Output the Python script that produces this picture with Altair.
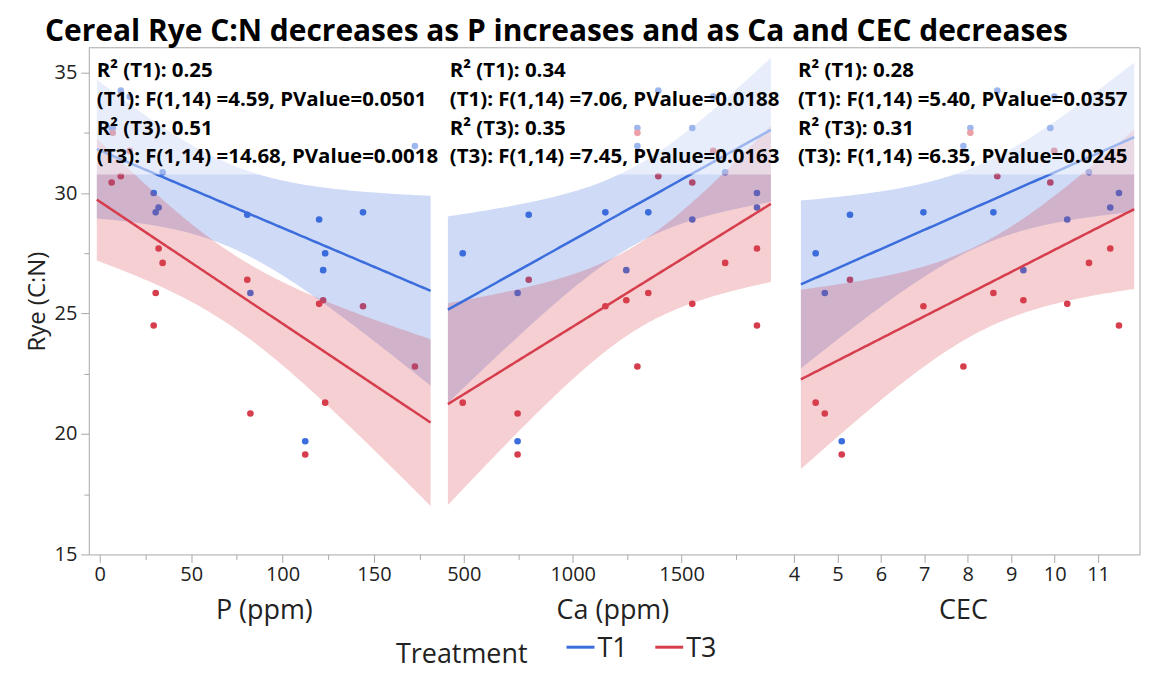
import altair as alt
import numpy as np
import pandas as pd

# ---- data (16 sites, each with a T1 and a T3 rye C:N value) ----
P_ppm = [11.5, 7.1, 16.4, 6.5, 32.2, 34.4, 30.6, 29.5, 80.7, 82.4, 120.0, 122.2, 123.3, 112.4, 144.0, 172.4]
Ca_ppm = [1393, 1297, 1645, 1549, 1846, 1700, 1347, 1846, 798, 747, 1549, 1246, 495, 747, 1150, 1297]
CEC = [8.68, 8.06, 9.99, 9.90, 11.28, 10.79, 8.59, 11.48, 5.29, 4.71, 10.29, 9.28, 4.50, 5.10, 6.98, 7.90]
rye_T1 = [34.25, 32.7, 34.0, 32.7, 29.4, 30.86, 29.2, 30.0, 29.1, 25.85, 28.9, 26.8, 27.5, 19.7, 29.2, 31.95]
rye_T3 = [30.7, 32.5, 31.75, 30.44, 27.7, 27.1, 25.85, 24.5, 26.4, 20.85, 25.4, 25.55, 21.3, 19.15, 25.3, 22.8]
treatments = ["T1", "T3"]

notes_P = ["R\u00b2 (T1): 0.25", "(T1): F(1,14) =4.59, PValue=0.0501",
           "R\u00b2 (T3): 0.51", "(T3): F(1,14) =14.68, PValue=0.0018"]
notes_Ca = ["R\u00b2 (T1): 0.34", "(T1): F(1,14) =7.06, PValue=0.0188",
            "R\u00b2 (T3): 0.35", "(T3): F(1,14) =7.45, PValue=0.0163"]
notes_CEC = ["R\u00b2 (T1): 0.28", "(T1): F(1,14) =5.40, PValue=0.0357",
             "R\u00b2 (T3): 0.31", "(T3): F(1,14) =6.35, PValue=0.0245"]

FONT = "Open Sans"
BLUE = "#3b6ddc"
RED = "#d63e4d"
GRAY = "#a8a8a8"
TXT = "#222222"
H = 508
Y_DOM = [15, 36.03]
T_CRIT = 2.144787  # t(0.975, 14)

color_scale = alt.Scale(domain=treatments, range=[BLUE, RED])


def fit_table(xs, lo, hi):
    frames = []
    for trt, ys in zip(treatments, (rye_T1, rye_T3)):
        x = np.asarray(xs, float)
        y = np.asarray(ys, float)
        n = len(x)
        b1, b0 = np.polyfit(x, y, 1)
        s = np.sqrt(np.sum((y - (b0 + b1 * x)) ** 2) / (n - 2))
        xbar = x.mean()
        sxx = np.sum((x - xbar) ** 2)
        grid = np.linspace(lo, hi, 120)
        yhat = b0 + b1 * grid
        half = T_CRIT * s * np.sqrt(1.0 / n + (grid - xbar) ** 2 / sxx)
        frames.append(pd.DataFrame({"x": grid, "yhat": yhat, "lo": yhat - half,
                                    "hi": yhat + half, "Treatment": trt}))
    return pd.concat(frames, ignore_index=True)


def make_panel(xs, xtitle, domain, fit_lo, fit_hi, tick_vals, label_step, width,
               notes, note_dx, first=False, last=False):
    pts = pd.DataFrame({"x": list(xs) * 2, "y": rye_T1 + rye_T3,
                        "Treatment": ["T1"] * len(xs) + ["T3"] * len(xs)})
    fit = fit_table(xs, fit_lo, fit_hi)

    xaxis = alt.Axis(
        title=xtitle, values=tick_vals, format="d",
        labelExpr=f"datum.value % {label_step} === 0 ? datum.label : ''",
        tickSize={"condition": {"test": f"datum.value % {label_step} === 0", "value": 8}, "value": 5},
        grid=False, labelPadding=2, titlePadding=13,
    )
    xs_scale = alt.Scale(domain=domain, nice=False, zero=False)
    if first:
        yaxis = alt.Axis(
            title="Rye (C:N)", values=[15, 17.5, 20, 22.5, 25, 27.5, 30, 32.5, 35], format="d",
            labelExpr="datum.value % 5 === 0 ? datum.label : ''",
            tickSize={"condition": {"test": "datum.value % 5 === 0", "value": 8}, "value": 5},
            grid=False, labelPadding=4, titlePadding=5, titleFontSize=24,
        )
    else:
        yaxis = None
    ys_scale = alt.Scale(domain=Y_DOM, nice=False, zero=False)

    col = alt.Color("Treatment:N", scale=color_scale, legend=None)

    points = alt.Chart(pts).mark_circle(size=44, opacity=1).encode(
        x=alt.X("x:Q", scale=xs_scale, axis=xaxis),
        y=alt.Y("y:Q", scale=ys_scale, axis=yaxis), color=col)
    band = alt.Chart(fit).mark_area(opacity=0.25, clip=True).encode(
        x=alt.X("x:Q", scale=xs_scale, axis=xaxis),
        y=alt.Y("lo:Q", scale=ys_scale, axis=yaxis), y2="hi:Q", color=col)
    line = alt.Chart(fit).mark_line(strokeWidth=2.5, clip=True).encode(
        x=alt.X("x:Q", scale=xs_scale, axis=xaxis),
        y=alt.Y("yhat:Q", scale=ys_scale, axis=yaxis), color=col)

    one = pd.DataFrame({"k": [0]})
    veil = alt.Chart(one).mark_rect(color="white", opacity=0.5).encode(
        x=alt.value(6), x2=alt.value(width), y=alt.value(0), y2=alt.value(127))
    frame_top = alt.Chart(one).mark_rule(color=GRAY, strokeWidth=1).encode(
        x=alt.value(0), x2=alt.value(width), y=alt.value(0))
    layers = [points, band, line, veil, frame_top]
    if last:
        layers.append(alt.Chart(one).mark_rule(color=GRAY, strokeWidth=1).encode(
            x=alt.value(width), y=alt.value(0), y2=alt.value(H)))
    for i, t in enumerate(notes):
        layers.append(alt.Chart(pd.DataFrame({"t": [t]})).mark_text(
            align="left", baseline="middle", font=FONT, fontSize=20.5, fontWeight="bold",
            color="black").encode(x=alt.value(note_dx), y=alt.value(23 + 29 * i), text="t:N"))
    return layers


l1 = make_panel(P_ppm, "P (ppm)", [-6.0, 185.5], -1.6, 181.0,
                [0, 25, 50, 75, 100, 125, 150, 175], 50, 351, notes_P, 8, first=True)
l2 = make_panel(Ca_ppm, "Ca (ppm)", [385.5, 1979.0], 427.0, 1910.0,
                [500, 750, 1000, 1250, 1500, 1750], 500, 348, notes_Ca, 11)
l3 = make_panel(CEC, "CEC", [3.816, 11.964], 4.16, 11.83,
                [4, 5, 6, 7, 8, 9, 10, 11], 1, 355, notes_CEC, 12, last=True)

# legend, drawn below the middle panel
leg = pd.DataFrame({"Treatment": treatments})
for i, trt in enumerate(treatments):
    l2.append(alt.Chart(leg[leg.Treatment == trt]).mark_rule(strokeWidth=3).encode(
        x=alt.value(128 + 89 * i), x2=alt.value(156 + 89 * i), y=alt.value(601),
        color=alt.Color("Treatment:N", scale=color_scale, legend=None)))
    l2.append(alt.Chart(leg[leg.Treatment == trt]).mark_text(
        align="left", baseline="alphabetic", font=FONT, fontSize=27, color=TXT).encode(
        x=alt.value(159 + 89 * i), y=alt.value(611), text="Treatment:N"))
l2.append(alt.Chart(pd.DataFrame({"t": ["Treatment"]})).mark_text(
    align="left", baseline="alphabetic", font=FONT, fontSize=27, color=TXT).encode(
    x=alt.value(-43), y=alt.value(617), text="t:N"))

p1 = alt.layer(*l1).properties(width=351, height=H)
p2 = alt.layer(*l2).properties(width=348, height=H)
p3 = alt.layer(*l3).properties(width=355, height=H)

chart = alt.hconcat(p1, p2, p3, spacing=0, bounds="flush").properties(
    title=alt.TitleParams(
        "Cereal Rye C:N decreases as P increases and as Ca and CEC decreases",
        font=FONT, fontSize=30, fontWeight="bold", color="black", anchor="start",
        offset=0, dx=20),
    padding={"left": 17, "top": 8, "right": 0, "bottom": 3},
).configure_view(stroke=None).configure_axis(
    domainColor=GRAY, tickColor=GRAY, labelColor=TXT, titleColor=TXT,
    labelFont=FONT, titleFont=FONT, labelFontSize=20, titleFontSize=27,
    titleFontWeight="normal",
)

chart.save("out.html", embed_options={"renderer": "svg", "actions": False})
